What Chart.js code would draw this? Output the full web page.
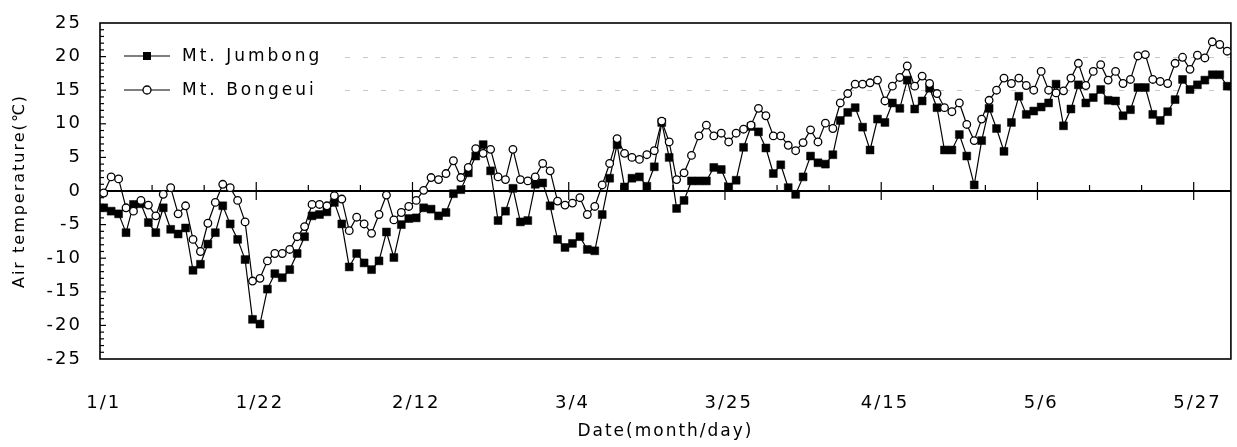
<!DOCTYPE html>
<html>
<head>
<meta charset="utf-8">
<script src="https://cdn.jsdelivr.net/npm/chart.js@4.4.1/dist/chart.umd.min.js"></script>
<style>
  html, body { margin: 0; padding: 0; background: #fff; }
  #wrap { width: 1237px; height: 447px; }
</style>
</head>
<body>
<div id="wrap"><canvas id="chart" width="1237" height="447"></canvas></div>
<script>
// day index 0 = 1/1 (leap year, 1/1 .. 6/1)
const tickDays = [0, 21, 42, 63, 84, 105, 126, 147];
const tickLabels = ["1/1", "1/22", "2/12", "3/4", "3/25", "4/15", "5/6", "5/27"];
const yMin = -25, yMax = 25, yStep = 5;

const jumbong = [
  -2.5, -3.0, -3.4, -6.2, -2.0, -1.9, -4.7, -6.2, -2.5, -5.7,
  -6.4, -5.5, -11.8, -10.9, -7.9, -6.2, -2.2, -4.9, -7.2, -10.2,
  -19.1, -19.8, -14.6, -12.3, -12.9, -11.7, -9.3, -6.8, -3.7, -3.5,
  -3.1, -1.7, -4.9, -11.3, -9.3, -10.7, -11.7, -10.4, -6.1, -9.9,
  -5.0, -4.1, -4.0, -2.5, -2.7, -3.7, -3.2, -0.4, 0.2, 2.7,
  5.2, 6.9, 3.0, -4.4, -3.0, 0.4, -4.6, -4.4, 1.0, 1.2,
  -2.2, -7.2, -8.4, -7.8, -6.8, -8.7, -8.9, -3.5, 1.9, 6.9,
  0.6, 1.9, 2.1, 0.7, 3.6, 10.2, 5.0, -2.6, -1.4, 1.5,
  1.5, 1.5, 3.5, 3.2, 0.6, 1.6, 6.5, 9.6, 8.8, 6.4,
  2.6, 3.9, 0.5, -0.5, 2.1, 5.2, 4.2, 4.0, 5.4, 10.5,
  11.7, 12.4, 9.5, 6.1, 10.7, 10.2, 13.1, 12.3, 16.5, 12.2,
  13.4, 15.3, 12.4, 6.1, 6.1, 8.4, 5.2, 0.9, 7.5, 12.3,
  9.3, 5.9, 10.2, 14.1, 11.4, 11.9, 12.5, 13.1, 15.9, 9.7,
  12.2, 15.8, 13.1, 13.9, 15.1, 13.5, 13.4, 11.2, 12.1, 15.4,
  15.4, 11.4, 10.5, 11.8, 13.6, 16.6, 15.1, 15.8, 16.5, 17.3,
  17.3, 15.6
];

const bongeui = [
  -0.3, 2.1, 1.8, -2.5, -3.0, -1.4, -2.1, -3.7, -0.5, 0.5,
  -3.4, -2.2, -7.2, -9.0, -4.8, -1.7, 1.0, 0.5, -1.4, -4.6,
  -13.4, -13.0, -10.4, -9.3, -9.3, -8.7, -6.8, -5.3, -2.0, -2.0,
  -2.2, -0.7, -1.2, -5.9, -3.9, -4.9, -6.3, -3.5, -0.6, -4.3,
  -3.2, -2.3, -1.4, 0.1, 2.0, 1.7, 2.6, 4.5, 2.0, 3.5,
  6.3, 5.6, 6.2, 2.1, 1.7, 6.2, 1.7, 1.5, 2.1, 4.1,
  3.0, -1.5, -2.1, -1.8, -1.0, -3.5, -2.3, 0.9, 4.1, 7.8,
  5.6, 5.0, 4.7, 5.4, 6.0, 10.4, 7.3, 1.7, 2.7, 5.3,
  8.2, 9.8, 8.2, 8.6, 7.3, 8.6, 9.2, 9.8, 12.3, 11.2,
  8.2, 8.2, 6.8, 6.0, 7.2, 9.1, 7.3, 10.1, 9.3, 13.1,
  14.5, 15.9, 15.9, 16.1, 16.5, 13.4, 15.6, 16.9, 18.6, 15.6,
  17.1, 16.0, 14.5, 12.4, 11.8, 13.1, 9.9, 7.5, 10.7, 13.5,
  15.0, 16.8, 16.0, 16.8, 15.7, 15.0, 17.8, 15.0, 14.6, 14.9,
  16.8, 19.0, 15.7, 17.8, 18.8, 16.5, 17.8, 16.0, 16.6, 20.1,
  20.3, 16.6, 16.3, 16.0, 19.0, 19.9, 18.1, 20.2, 19.8, 22.2,
  21.8, 20.8
];

const FONT = "DejaVu Sans";

/* frame, zero line with date ticks, minor y ticks, faint dashes */
const framePlugin = {
  id: "frame",
  beforeDraw(chart) {
    chart.ctx.letterSpacing = "2px";
  },
  beforeDatasetsDraw(chart) {
    const { ctx, chartArea: a, scales: { x, y } } = chart;
    ctx.save();
    ctx.letterSpacing = "0px";

    // faint dashed remnants at 20 and 15
    ctx.strokeStyle = "rgba(0,0,0,0.22)";
    ctx.lineWidth = 1;
    ctx.setLineDash([5, 13]);
    [20, 15].forEach(v => {
      const py = Math.round(y.getPixelForValue(v)) + 0.5;
      ctx.beginPath();
      ctx.moveTo(345, py);
      ctx.lineTo(a.right, py);
      ctx.stroke();
    });
    ctx.setLineDash([]);

    ctx.strokeStyle = "#000";
    // box
    ctx.lineWidth = 1.6;
    ctx.strokeRect(a.left, a.top, a.right - a.left, a.bottom - a.top);

    // zero line
    const y0 = y.getPixelForValue(0);
    ctx.lineWidth = 1.8;
    ctx.beginPath();
    ctx.moveTo(a.left, y0);
    ctx.lineTo(a.right, y0);
    ctx.stroke();

    // week ticks on zero line
    ctx.lineWidth = 1.2;
    for (let d = 7; d < 152; d += 7) {
      const px = x.getPixelForValue(d - 0.5);
      const major = d % 21 === 0;
      ctx.beginPath();
      ctx.moveTo(px, y0 - (major ? 9 : 6));
      ctx.lineTo(px, y0 + (major ? 9 : 0));
      ctx.stroke();
    }

    // minor ticks along y axis (inside)
    ctx.lineWidth = 1.2;
    for (let v = yMin + 1; v < yMax; v++) {
      const py = y.getPixelForValue(v);
      const len = v % yStep === 0 ? 6 : 4;
      ctx.beginPath();
      ctx.moveTo(a.left, py);
      ctx.lineTo(a.left + len, py);
      ctx.stroke();
    }
    ctx.restore();
  },
  afterDraw(chart) {
    chart.ctx.letterSpacing = "0px";
  }
};

/* legend inside the plot, top left */
const legendPlugin = {
  id: "insideLegend",
  afterDraw(chart) {
    const ctx = chart.ctx;
    const items = [
      { text: "Mt. Jumbong", y: 56, square: true },
      { text: "Mt. Bongeui", y: 90, square: false }
    ];
    ctx.save();
    items.forEach(it => {
      ctx.strokeStyle = "#000";
      ctx.lineWidth = 1.2;
      ctx.beginPath();
      ctx.moveTo(124, it.y);
      ctx.lineTo(170, it.y);
      ctx.stroke();
      if (it.square) {
        ctx.fillStyle = "#000";
        ctx.fillRect(143, it.y - 4, 8, 8);
      } else {
        ctx.fillStyle = "#fff";
        ctx.lineWidth = 1.3;
        ctx.beginPath();
        ctx.arc(147, it.y, 4, 0, Math.PI * 2);
        ctx.fill();
        ctx.stroke();
      }
      ctx.fillStyle = "#000";
      ctx.font = "17px '" + FONT + "'";
      ctx.letterSpacing = "3px";
      ctx.textBaseline = "middle";
      ctx.fillText(it.text, 182, it.y + 1);
    });
    ctx.restore();
  }
};

new Chart(document.getElementById("chart"), {
  type: "line",
  data: {
    datasets: [
      {
        label: "Mt. Jumbong",
        data: jumbong.map((v, i) => ({ x: i, y: v })),
        borderColor: "#000",
        borderWidth: 1.2,
        pointStyle: "rect",
        pointRadius: 5.6,
        pointBackgroundColor: "#000",
        pointBorderColor: "#000",
        pointBorderWidth: 0.5,
        tension: 0,
        order: 1
      },
      {
        label: "Mt. Bongeui",
        data: bongeui.map((v, i) => ({ x: i, y: v })),
        borderColor: "#000",
        borderWidth: 1.2,
        pointStyle: "circle",
        pointRadius: 3.8,
        pointBackgroundColor: "#fff",
        pointBorderColor: "#000",
        pointBorderWidth: 1.3,
        tension: 0,
        order: 0
      }
    ]
  },
  options: {
    responsive: false,
    animation: false,
    layout: { padding: { top: 23, right: 1, left: 0, bottom: 0 } },
    plugins: {
      legend: { display: false },
      tooltip: { enabled: false }
    },
    scales: {
      x: {
        type: "linear",
        min: -0.5,
        max: 151.5,
        grid: { display: false, drawTicks: false },
        border: { display: false },
        afterBuildTicks: s => { s.ticks = tickDays.map(v => ({ value: v })); },
        afterFit: s => { s.height = 88; s.paddingLeft = 0; s.paddingRight = 0; },
        ticks: {
          autoSkip: false,
          maxRotation: 0,
          padding: 34,
          color: "#000",
          font: { family: FONT, size: 18 },
          callback: v => tickLabels[tickDays.indexOf(v)]
        },
        title: {
          display: true,
          text: "Date(month/day)",
          color: "#000",
          font: { family: FONT, size: 17 },
          padding: { top: 0, bottom: 5 }
        }
      },
      y: {
        min: yMin,
        max: yMax,
        grid: { display: false, drawTicks: false },
        border: { display: false },
        afterFit: s => { s.width = 100; s.paddingTop = 0; s.paddingBottom = 0; },
        ticks: {
          stepSize: yStep,
          padding: 18,
          color: "#000",
          font: { family: FONT, size: 18 }
        },
        title: {
          display: true,
          text: "Air temperature(℃)",
          color: "#000",
          font: { family: FONT, size: 16 },
          padding: { top: 10, bottom: 0 }
        }
      }
    }
  },
  plugins: [framePlugin, legendPlugin]
});
</script>
</body>
</html>
